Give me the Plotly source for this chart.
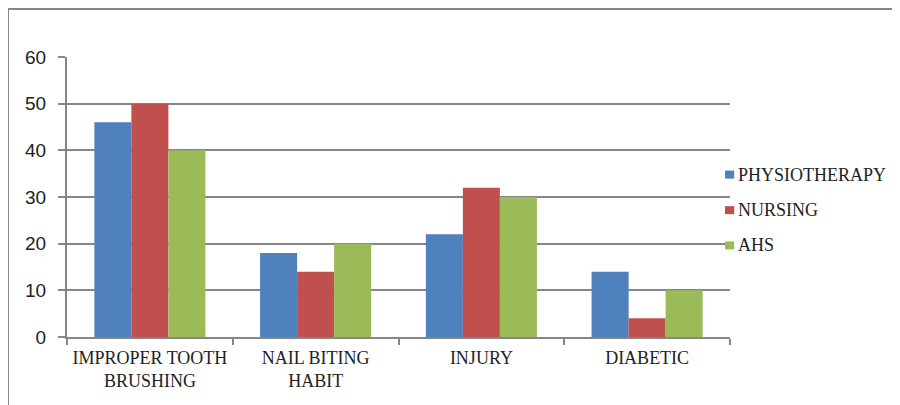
import plotly.graph_objects as go

# data
categories = ["IMPROPER TOOTH<br>BRUSHING", "NAIL BITING<br>HABIT", "INJURY", "DIABETIC"]
physiotherapy = [46, 18, 22, 14]
nursing = [50, 14, 32, 4]
ahs = [40, 20, 30, 10]

series = [
    ("PHYSIOTHERAPY", physiotherapy, "#4F81BD"),
    ("NURSING", nursing, "#C0504D"),
    ("AHS", ahs, "#9BBB59"),
]

AXIS_GREY = "#868686"
TEXT = "#222222"

fig = go.Figure()
for name, vals, color in series:
    fig.add_trace(go.Bar(
        x=categories,
        y=vals,
        name=name,
        marker=dict(color=color, line=dict(width=0)),
        showlegend=False,
    ))

# hand-placed legend (plotly's own legend squeezes the plot area too much)
legend_y = [0.580, 0.453, 0.327]
shapes = []
annotations = []
for (name, _, color), ly in zip(series, legend_y):
    shapes.append(dict(
        type="rect", xref="paper", yref="paper",
        x0=0.9925, x1=1.0063, y0=ly - 0.0143, y1=ly + 0.0143,
        fillcolor=color, line=dict(width=0),
    ))
    annotations.append(dict(
        text=name, xref="paper", yref="paper",
        x=1.0095, y=ly, xanchor="left", yanchor="middle",
        showarrow=False,
        font=dict(family="Liberation Serif", size=18, color=TEXT),
    ))

# outer chart border (only top and left edges are inside the picture)
shapes.append(dict(
    type="rect", xref="paper", yref="paper",
    x0=-0.089, x1=1.6, y0=-0.6, y1=1.171,
    line=dict(color=AXIS_GREY, width=2),
    layer="below",
))

# the page body adds an 8px offset, so margins are trimmed to compensate
fig.update_layout(
    width=900,
    height=405,
    margin=dict(l=59, r=178, t=49, b=76),
    paper_bgcolor="white",
    plot_bgcolor="white",
    barmode="group",
    bargap=0.33,
    bargroupgap=0,
    showlegend=False,
    xaxis=dict(
        showline=True,
        linecolor=AXIS_GREY,
        linewidth=2,
        ticks="outside",
        tickson="boundaries",
        ticklen=6,
        tickcolor=AXIS_GREY,
        tickwidth=2,
        tickangle=0,
        ticklabelstandoff=3,
        automargin=False,
        tickfont=dict(family="Liberation Serif", size=18, color=TEXT),
        showgrid=False,
    ),
    yaxis=dict(
        range=[0, 60],
        dtick=10,
        showline=True,
        linecolor=AXIS_GREY,
        linewidth=2,
        ticks="outside",
        ticklen=7,
        tickcolor=AXIS_GREY,
        tickwidth=2,
        ticklabelstandoff=8,
        automargin=False,
        showgrid=True,
        gridcolor=AXIS_GREY,
        gridwidth=2,
        zeroline=False,
        tickfont=dict(family="Liberation Sans", size=19, color=TEXT),
    ),
    shapes=shapes,
    annotations=annotations,
)

fig.write_html("out.html")
